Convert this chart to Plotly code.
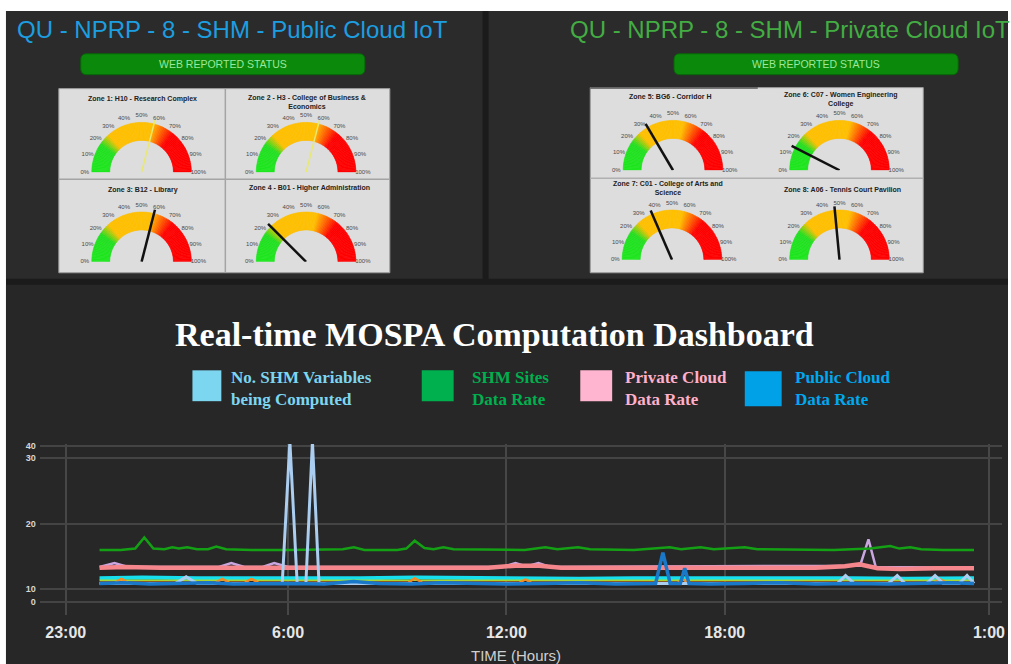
import plotly.graph_objects as go

W, H = 1011, 664


def fx(p):
    return p / W


def fy(p):
    return 1 - p / H


# ---------------- data ----------------
public_title = "QU - NPRP - 8 - SHM - Public Cloud IoT"
private_title = "QU - NPRP - 8 - SHM - Private Cloud IoT"
status_label = "WEB REPORTED STATUS"

public_zones = ["Zone 1: H10 - Research Complex",
                "Zone 2 - H3 - College of Business &<br>Economics",
                "Zone 3: B12 - Library",
                "Zone 4 - B01 - Higher Administration"]
public_values = [58, 58, 58, 25]

private_zones = ["Zone 5: BG6 - Corridor H",
                 "Zone 6: C07 - Women Engineering<br>College",
                 "Zone 7: C01 - College of Arts and<br>Science",
                 "Zone 8: A06 - Tennis Court Pavilion"]
private_values = [33, 15, 37, 47]

gauge_tick_values = [0, 10, 20, 30, 40, 50, 60, 70, 80, 90, 100]
gauge_tick_labels = ["0%", "10%", "20%", "30%", "40%", "50%", "60%", "70%", "80%", "90%", "100%"]

chart_title = "Real-time MOSPA Computation Dashboard"
legend_names = ["No. SHM Variables<br>being Computed", "SHM Sites<br>Data Rate",
                "Private Cloud<br>Data Rate", "Public Cloud<br>Data Rate"]

x_tick_labels = ["23:00", "6:00", "12:00", "18:00", "1:00"]
x_tick_pos = [23.89, 30, 36, 42, 49.26]
y_tick_labels = ["0", "10", "20", "30", "40"]
y_tick_pos = [8.03, 10, 20, 30, 31.8]

green_t = [24.82, 25.4, 25.8, 26.05, 26.3, 26.6, 26.82, 27.0, 27.23, 27.5, 27.8, 28.03, 28.3, 29.0,
           30.0, 31.0, 31.5, 31.81, 32.1, 33.0, 33.25, 33.48, 33.75, 34.0, 34.27, 34.55, 35.5, 36.5,
           37.07, 37.4, 37.97, 38.3, 39.5, 40.49, 40.8, 41.34, 41.7, 42.55, 42.9, 44.0, 45.0, 46.0,
           46.55, 46.8, 47.1, 47.4, 48.0, 48.85]
green_v = [16.0, 16.0, 16.2, 17.9, 16.2, 16.1, 16.4, 16.2, 16.4, 16.1, 16.1, 16.5, 16.1, 16.0,
           16.0, 16.0, 16.1, 16.4, 16.0, 16.0, 16.2, 17.4, 16.3, 16.1, 16.4, 16.1, 16.0, 16.0,
           16.4, 16.1, 16.4, 16.1, 16.0, 16.4, 16.1, 16.4, 16.1, 16.4, 16.1, 16.0, 16.0, 16.2,
           16.6, 16.2, 16.4, 16.1, 16.0, 16.0]

pink_t = [24.82, 25.5, 26.5, 27.5, 28.5, 29.5, 30.5, 31.5, 32.5, 33.5, 34.5, 35.5, 36.25, 36.9,
          37.5, 38.5, 39.5, 40.5, 41.5, 42.5, 43.5, 44.5, 45.3, 45.7, 46.2, 46.8, 47.8, 48.85]
pink_v = [13.3, 13.4, 13.3, 13.3, 13.4, 13.3, 13.3, 13.4, 13.3, 13.3, 13.4, 13.3, 13.6, 13.6,
          13.3, 13.3, 13.4, 13.3, 13.3, 13.4, 13.3, 13.3, 13.5, 13.8, 13.2, 13.1, 13.2, 13.2]

lav_t = [24.82, 25.23, 25.6, 28.1, 28.44, 28.8, 29.3, 29.62, 30.0, 35.9, 36.25, 36.55, 36.88, 37.2,
         45.72, 45.95, 46.15, 48.85]
lav_v = [13.4, 14.0, 13.4, 13.4, 14.0, 13.4, 13.4, 14.0, 13.4, 13.4, 14.0, 13.5, 14.0, 13.4,
         13.6, 17.6, 13.4, 13.3]

shm_t = [24.82, 26.9, 27.2, 27.5, 29.0, 29.84, 30.05, 30.25, 30.49, 30.67, 30.85, 32.0, 34.0, 36.0,
         38.0, 40.0, 42.0, 43.5, 45.1, 45.32, 45.55, 46.5, 46.74, 46.95, 47.55, 47.78, 48.0, 48.45,
         48.66, 48.85]
shm_v = [10.9, 10.9, 11.9, 10.9, 10.9, 10.9, 32.5, 10.9, 10.9, 32.5, 10.9, 10.9, 10.9, 10.9,
         10.9, 10.9, 10.9, 10.9, 10.9, 12.1, 10.9, 10.9, 12.1, 10.9, 10.9, 12.1, 10.9, 10.9,
         12.1, 10.9]

blue_t = [24.82, 25.5, 26.2, 27.0, 27.8, 28.5, 29.2, 30.0, 31.0, 31.8, 32.5, 33.4, 34.2, 35.0,
          36.0, 37.0, 38.0, 39.0, 39.8, 40.1, 40.30, 40.5, 40.78, 40.90, 41.02, 41.6, 42.5, 43.5,
          44.5, 45.5, 46.5, 47.5, 48.2, 48.85]
blue_v = [10.9, 11.0, 10.8, 10.9, 11.0, 10.8, 10.9, 10.9, 10.8, 11.2, 10.9, 10.8, 11.0, 10.9,
          10.8, 10.9, 11.0, 10.8, 10.9, 10.9, 15.6, 10.9, 10.9, 13.2, 10.9, 10.8, 10.9, 11.0,
          10.8, 10.9, 10.8, 10.9, 11.0, 10.9]

cyan_t = [24.82, 26.0, 27.5, 29.0, 30.5, 32.0, 33.5, 35.0, 36.5, 38.0, 39.5, 41.0, 42.5, 44.0,
          45.5, 47.0, 48.85]
cyan_v = [11.7, 11.8, 11.7, 11.7, 11.6, 11.7, 11.8, 11.7, 11.7, 11.6, 11.7, 11.7, 11.8, 11.7,
          11.7, 11.6, 11.7]

orange_t = [24.82, 25.25, 25.42, 25.6, 28.0, 28.19, 28.4, 28.8, 28.99, 29.2, 33.3, 33.48, 33.7,
            36.35, 36.52, 36.7, 40.7, 40.85, 41.0, 47.75, 47.92, 48.1, 48.85]
orange_v = [11.0, 11.0, 11.6, 11.0, 11.0, 11.6, 11.0, 11.0, 11.6, 11.0, 11.0, 11.7, 11.0,
            11.0, 11.5, 11.0, 11.0, 11.5, 11.0, 11.0, 11.5, 11.0, 11.0]

ygreen_t = [24.82, 30.0, 36.0, 42.0, 48.85]
ygreen_v = [11.4, 11.4, 11.5, 11.4, 11.4]

# ---------------- styling helpers ----------------
ring_stops = [(0.0, (30, 232, 30)), (0.19, (34, 224, 34)), (0.27, (255, 192, 0)),
              (0.57, (255, 192, 0)), (0.64, (255, 106, 0)), (0.72, (255, 0, 0)), (1.0, (255, 0, 0))]


def ring_color(f):
    for (a, ca), (b, cb) in zip(ring_stops[:-1], ring_stops[1:]):
        if a <= f <= b:
            t = 0 if b == a else (f - a) / (b - a)
            c = [round(ca[i] + (cb[i] - ca[i]) * t) for i in range(3)]
            return "rgb(%d,%d,%d)" % tuple(c)
    return "rgb(255,0,0)"


SEG = 90
seg_theta = [(i + 0.5) * 180 / SEG for i in range(SEG)]
seg_col = [ring_color((i + 0.5) / SEG) for i in range(SEG)]

fig = go.Figure()

shapes = []


def rect(x0, y0, x1, y1, fill, line=None, lw=0):
    shapes.append(dict(type="rect", xref="paper", yref="paper", x0=fx(x0), x1=fx(x1), y0=fy(y1), y1=fy(y0),
                       fillcolor=fill, line=dict(color=line or fill, width=lw), layer="below"))


def hline(x0, x1, y, color, w):
    shapes.append(dict(type="line", xref="paper", yref="paper", x0=fx(x0), x1=fx(x1), y0=fy(y), y1=fy(y),
                       line=dict(color=color, width=w), layer="below"))


def vline(x, y0, y1, color, w):
    shapes.append(dict(type="line", xref="paper", yref="paper", x0=fx(x), x1=fx(x), y0=fy(y0), y1=fy(y1),
                       line=dict(color=color, width=w), layer="below"))


def rrect(x0, y0, x1, y1, r, fill, line):
    pts = lambda x, y: "%f,%f" % (fx(x), fy(y))
    path = ("M " + pts(x0 + r, y0) + " L " + pts(x1 - r, y0) + " Q " + pts(x1, y0) + " " + pts(x1, y0 + r) +
            " L " + pts(x1, y1 - r) + " Q " + pts(x1, y1) + " " + pts(x1 - r, y1) +
            " L " + pts(x0 + r, y1) + " Q " + pts(x0, y1) + " " + pts(x0, y1 - r) +
            " L " + pts(x0, y0 + r) + " Q " + pts(x0, y0) + " " + pts(x0 + r, y0) + " Z")
    shapes.append(dict(type="path", xref="paper", yref="paper", path=path, fillcolor=fill,
                       line=dict(color=line, width=1), layer="below"))


# page backgrounds
rect(6, 8, W, H, "#1b1b1b")
rect(6, 8, 484, 277, "#2b2b2b")
rect(490, 8, W, 277, "#2b2b2b")
rect(6, 283, W, H, "#272727")

# buttons
rrect(81, 51, 366, 72, 6, "#0b890b", "#076607")
rrect(676, 51, 961, 72, 6, "#0b890b", "#076607")

# gauge panels
rect(59, 86, 391, 271, "#dddddd", "#9a9a9a", 1)
vline(226, 86, 271, "#a4a4a4", 1.5)
hline(59, 391, 177, "#a4a4a4", 1.5)
rect(592, 85, 926, 271, "#dddddd", "#9a9a9a", 1)
hline(592, 926, 176, "#b0b0b0", 1.5)
hline(592, 760, 85.5, "#555555", 1.5)

annotations = []


def text(x, y, s, size, color, family="Liberation Sans, Arial", xanchor="center", align="center", weight=None):
    f = dict(size=size, color=color, family=family)
    if weight:
        f["weight"] = weight
    annotations.append(dict(x=fx(x), y=fy(y), xref="paper", yref="paper", text=s, showarrow=False,
                            xanchor=xanchor, yanchor="middle", align=align, font=f))


text(15, 27, public_title, 24, "#1c9ee0", xanchor="left")
text(570, 27, private_title, 24, "#43ad43", xanchor="left")
text(223.5, 61.5, status_label, 10.5, "#9be89b")
text(818.5, 61.5, status_label, 10.5, "#9be89b")

# ---------------- gauges ----------------
R = 50          # outer ring radius in px
RMAX = 1.25     # radial axis extent (ring ends at 1.0)
RP = R * RMAX   # polar subplot radius in px
gauge_centers = [(142, 170), (307, 170), (142, 260), (307, 260),
                 (675, 168), (842, 168), (674, 258), (842, 258)]
gauge_title_pos = [(143, 96), (308, 99), (143, 188), (310, 186),
                   (672, 94), (843, 97), (670, 186), (845, 187)]
zone_names = public_zones + private_zones
zone_values = public_values + private_values
needle_style = [("#e8e872", 1.5), ("#e8e872", 1.5), ("#111111", 2.5), ("#111111", 2.5),
                ("#111111", 2.5), ("#111111", 2.5), ("#111111", 2.5), ("#111111", 2.5)]

polar_layouts = {}
for k in range(8):
    name = "polar" if k == 0 else "polar%d" % (k + 1)
    cx, cy = gauge_centers[k]
    fig.add_trace(go.Barpolar(r=[0.36] * SEG, base=0.64, theta=seg_theta, width=[180 / SEG] * SEG,
                              marker=dict(color=seg_col, line=dict(color=seg_col, width=0.6)),
                              subplot=name, showlegend=False, hoverinfo="skip"))
    fig.add_trace(go.Scatterpolar(r=[1.14] * len(gauge_tick_values),
                                  theta=[v * 1.8 for v in gauge_tick_values],
                                  text=gauge_tick_labels, mode="text", textposition="middle center",
                                  textfont=dict(size=6, color="#4a4a4a", family="Liberation Sans, Arial"),
                                  subplot=name, showlegend=False, cliponaxis=False, hoverinfo="skip"))
    nc, nw = needle_style[k]
    fig.add_trace(go.Scatterpolar(r=[0, 1.08], theta=[0, zone_values[k] * 1.8], mode="lines",
                                  line=dict(color=nc, width=nw), subplot=name, showlegend=False,
                                  cliponaxis=False, hoverinfo="skip"))
    polar_layouts[name] = dict(
        domain=dict(x=[fx(cx - RP), fx(cx + RP)], y=[fy(cy), fy(cy - RP)]),
        sector=[0, 180], bgcolor="rgba(0,0,0,0)", bargap=0, hole=0,
        radialaxis=dict(visible=False, range=[0, RMAX]),
        angularaxis=dict(direction="clockwise", rotation=180, thetaunit="degrees",
                         showticklabels=False, showgrid=False, showline=False, ticks=""))
    tx, ty = gauge_title_pos[k]
    text(tx, ty, "<b>" + zone_names[k] + "</b>", 7, "#222222")

# ---------------- time chart ----------------
series = [
    (lav_t, lav_v, "#c9a6e0", 2.5),
    (pink_t, pink_v, "#f4868c", 4.5),
    (green_t, green_v, "#14a014", 2.5),
    (cyan_t, cyan_v, "#16e0ee", 4),
    (ygreen_t, ygreen_v, "#a8d830", 1.5),
    (orange_t, orange_v, "#f28c28", 2.5),
    (shm_t, shm_v, "#aacdf0", 3),
    (blue_t, blue_v, "#1a78c8", 3.5),
]
for t, v, c, w in series:
    fig.add_trace(go.Scatter(x=t, y=v, mode="lines", line=dict(color=c, width=w),
                             xaxis="x", yaxis="y", showlegend=False, hoverinfo="skip"))

text(496, 333, "<b>" + chart_title + "</b>", 34, "#ffffff", family="Liberation Serif, Times New Roman")

legend_sq = [(193, 369, 222, 400, "#7dd6f0"), (423, 369, 455, 400, "#00b04f"),
             (582, 369, 614, 400, "#ffb5cf"), (747, 370, 784, 405, "#00a1e6")]
legend_txt = [(230, "#7dd6f0"), (471, "#00b04f"), (625, "#ffb0cb"), (795, "#00a8f0")]
for (x0, y0, x1, y1, c), (tx, tc), nm in zip(legend_sq, legend_txt, legend_names):
    rect(x0, y0, x1, y1, c)
    text(tx, 387, "<b>" + nm + "</b>", 17, tc, family="Liberation Serif, Times New Roman",
         xanchor="left", align="left")

text(518, 655, "TIME (Hours)", 15, "#cfcfcf")

fig.update_layout(
    width=W, height=H, margin=dict(l=0, r=0, t=0, b=0),
    paper_bgcolor="#ffffff", plot_bgcolor="rgba(0,0,0,0)",
    shapes=shapes, annotations=annotations, showlegend=False,
    xaxis=dict(domain=[fx(40), fx(1005)], range=[23.18, 49.62], tickvals=x_tick_pos, ticktext=x_tick_labels,
               showgrid=True, gridcolor="#474747", gridwidth=1.5, zeroline=False, showline=False, ticks="",
               tickfont=dict(size=16, color="#e6e6e6", family="Liberation Sans, Arial", weight="bold"),
               ticklabelstandoff=6),
    yaxis=dict(domain=[fy(615), fy(443)], range=[6.06, 32.12], tickvals=y_tick_pos, ticktext=y_tick_labels,
               showgrid=True, gridcolor="#444444", gridwidth=1.5, zeroline=False, showline=False, ticks="",
               tickfont=dict(size=9, color="#d6d6d6", family="Liberation Sans, Arial", weight="bold"),
               ticklabelstandoff=3),
    **polar_layouts,
)

fig.write_html("out.html", config={"displayModeBar": False},
               post_script="document.body.style.margin='0';document.body.style.overflow='hidden';")
